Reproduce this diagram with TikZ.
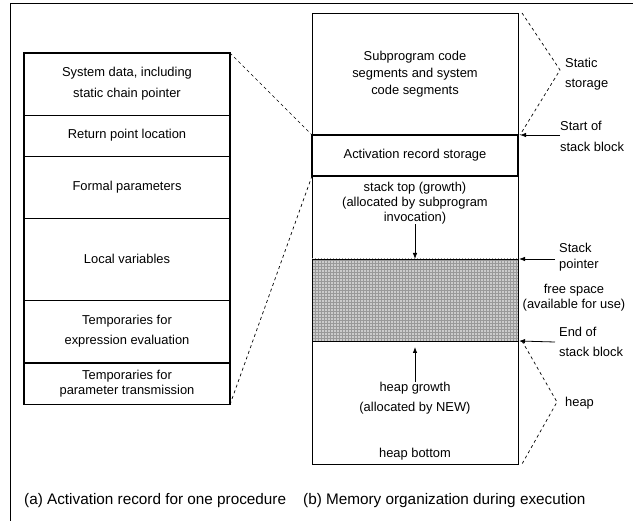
\documentclass[tikz,border=0pt]{standalone}
\usepackage{fontspec}
\setmainfont{Liberation Sans}
\usetikzlibrary{arrows.meta,patterns}
\begin{document}
\begin{tikzpicture}[x=1pt,y=-1pt,
  cell/.style={draw=black,line width=0.8pt,minimum width=206pt,inner sep=0pt,outer sep=0pt,align=center},
  txt/.style={inner sep=0pt,align=center},
  lbl/.style={inner sep=0pt,align=left,anchor=west},
  dsh/.style={dash pattern=on 3pt off 3pt,line width=0.7pt},
  arr/.style={-{Latex[length=6pt,width=4.5pt]},line width=0.8pt},
  fnt/.style={font=\fontsize{12.9}{#1}\selectfont},
  captxt/.style={inner sep=0pt,anchor=west,font=\fontsize{15.3}{18}\selectfont}]
\useasboundingbox (0,0) rectangle (633,521);
% outer frame (partial)
\draw[line width=0.8pt] (10,521) -- (10,3) -- (633,3);
% ---- left: activation record ----
\node[cell,minimum height=62pt,fnt=21] (r1) at (127,84) {System data, including\\static chain pointer};
\node[cell,minimum height=41pt,fnt=15] (r2) at (127,135.5) {Return point location};
\node[cell,minimum height=62pt,fnt=15] (r3) at (127,187) {Formal parameters};
\node[cell,minimum height=82pt,fnt=15] (r4) at (127,259) {Local variables};
\node[cell,minimum height=62pt,fnt=20] (r5) at (127,331) {Temporaries for\\expression evaluation};
\node[cell,minimum height=41pt,fnt=15] (r6) at (127,384) {Temporaries for\\parameter transmission};
\draw[line width=1.6pt] (r1.north west) rectangle (r6.south east);
% ---- right: memory organization ----
\node[cell,minimum height=122pt,fnt=17] (m1) at (415,74) {Subprogram code\\segments and system\\code segments};
\node[cell,minimum height=41pt,fnt=15,line width=2pt] (m2) at (415,155.5) {Activation record storage};
\node[cell,minimum height=83pt] (m3) at (415,217.5) {};
\node[cell,minimum height=82pt,preaction={fill=gray!40},pattern=grid,pattern color=gray!80] (m4) at (415,300) {};
\node[cell,minimum height=123pt] (m5) at (415,402.5) {};
\draw[line width=2pt] (m2.north west) rectangle (m2.south east);
\node[txt,fnt=15] (st) at (415,203) {stack top (growth)\\(allocated by subprogram\\invocation)};
\node[txt,fnt=20] (hg) at (415,398) {heap growth\\(allocated by NEW)};
\node[txt,fnt=15] (hb) at (415,454) {heap bottom};
\draw[arr] (st.south) -- (m4.north);
\draw[arr,shorten >=6pt] (hg.north) -- (m4.south);
% connecting dashed lines
\draw[dsh] (r1.north east) -- (m2.north west);
\draw[dsh] (r6.south east) -- (m2.south west);
% right labels
\coordinate (sapex) at (560,70);
\coordinate (hapex) at (557,402);
\draw[dsh] ([xshift=4pt]m1.north east) -- (sapex) -- ([xshift=2pt]m1.south east);
\draw[dsh] ([xshift=4pt]m5.north east) -- (hapex) -- ([xshift=4pt]m5.south east);
\node[lbl,fnt=20] (ls) at (565,74) {Static\\storage};
\node[lbl,fnt=21] (lsb) at (560,136) {Start of\\stack block};
\node[lbl,fnt=16] (lsp) at (559,257) {Stack\\pointer};
\node[txt,fnt=15] (lfs) at (574,298) {free space\\(available for use)};
\node[lbl,fnt=20] (leb) at (559,342) {End of\\stack block};
\node[lbl,fnt=15] (lh) at (565,403) {heap};
\coordinate (a1) at (560,135);
\coordinate (a2) at (555,259);
\coordinate (a3) at (555,342);
\draw[arr] (a1) -- ([xshift=2pt]m2.north east);
\draw[arr] (a2) -- ([xshift=1pt]m4.north east);
\draw[arr] (a3) -- ([xshift=1pt]m4.south east);
% captions
\node[captxt] (ca) at (24,501) {(a) Activation record for one procedure};
\node[captxt] (cb) at (303,501) {(b) Memory organization during execution};
\end{tikzpicture}
\end{document}
